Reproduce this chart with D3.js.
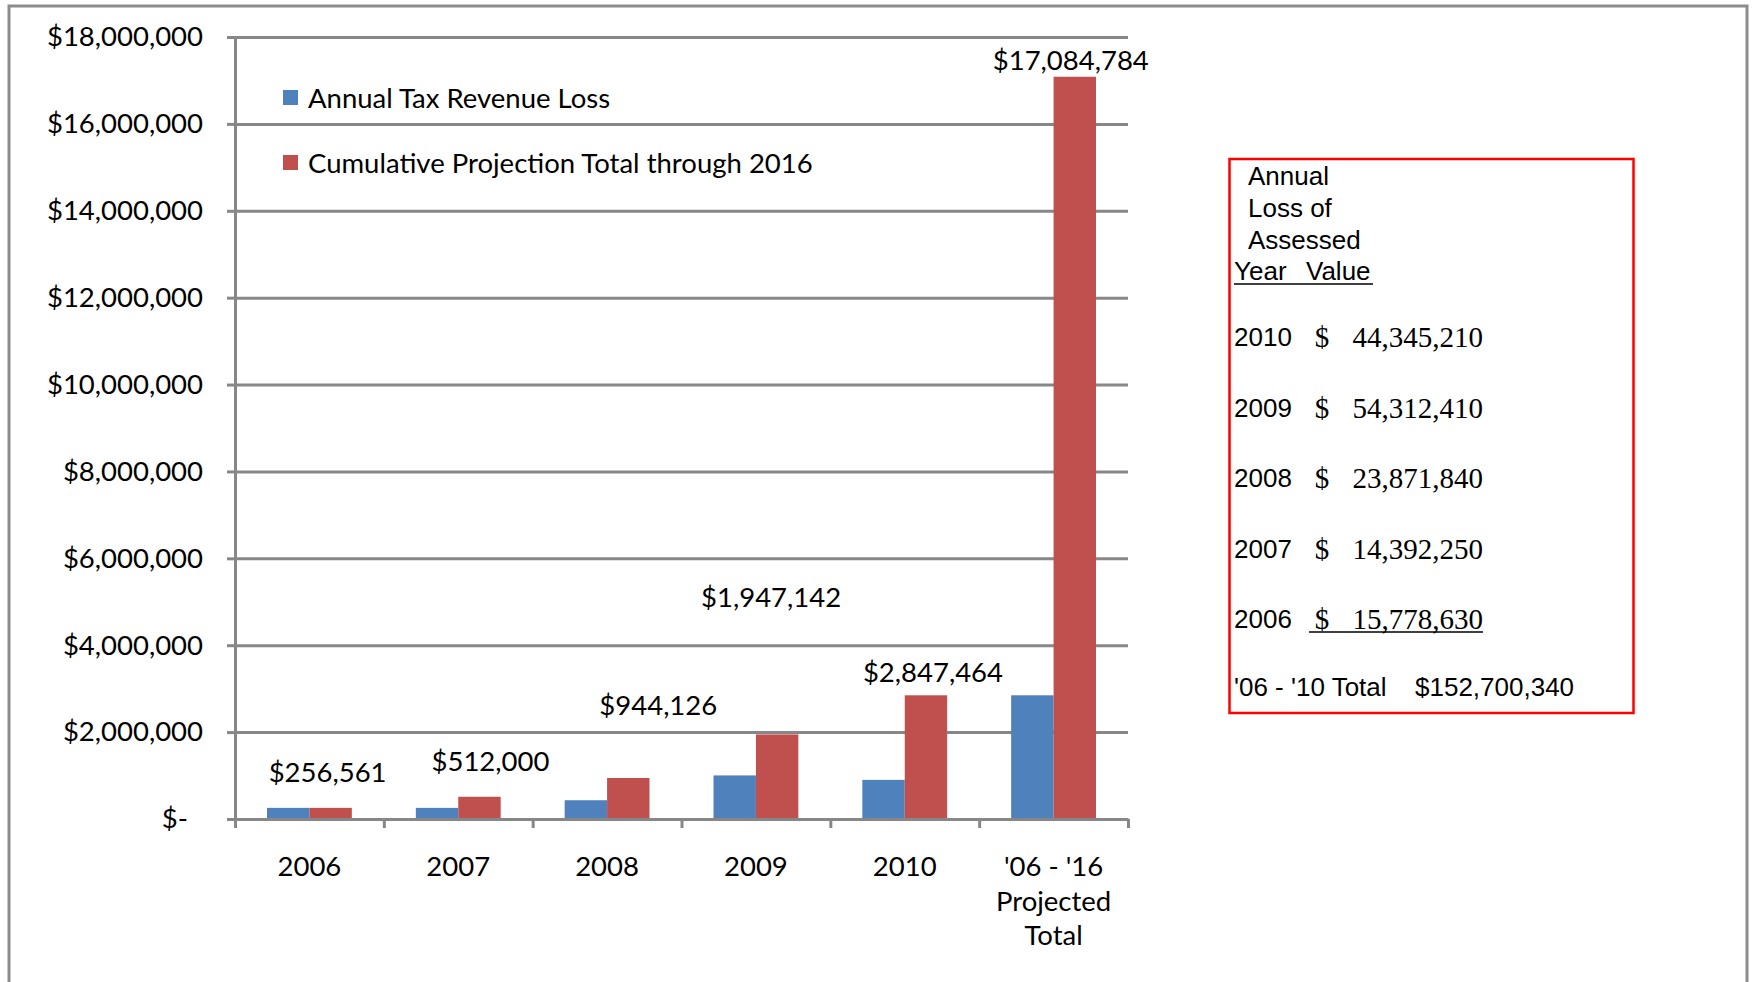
<!DOCTYPE html>
<html>
<head>
<meta charset="utf-8">
<script src="https://cdnjs.cloudflare.com/ajax/libs/d3/7.8.5/d3.min.js"></script>
<style>
  body { margin: 0; background: #fff; }
  svg text { font-family: Lato, "Open Sans", sans-serif; fill: #000; }
  .grid line { stroke: #878787; stroke-width: 3; }
  .grid path { display: none; }
  .axis path, .axis line { stroke: #878787; stroke-width: 3; fill: none; }
  .tbl text { font-family: "Liberation Sans", Arial, sans-serif; }
  .tbl text.num { font-family: "Liberation Serif", "Times New Roman", serif; }
</style>
</head>
<body>
<div id="chart"></div>
<script>
// -----------------------------------------------------------------------------
// Data
// -----------------------------------------------------------------------------

var categories = ["2006", "2007", "2008", "2009", "2010", "'06 - '16|Projected|Total"];
var annualLoss = [256561, 256000, 432126, 1003016, 900322, 2847464];
var cumulative = [256561, 512000, 944126, 1947142, 2847464, 17084784];
var seriesNames = ["Annual Tax Revenue Loss", "Cumulative Projection Total through 2016"];
var yTicks = [0, 2000000, 4000000, 6000000, 8000000, 10000000, 12000000, 14000000, 16000000, 18000000];

var tableYears = ["2010", "2009", "2008", "2007", "2006"];
var tableValues = ["44,345,210", "54,312,410", "23,871,840", "14,392,250", "15,778,630"];
var tableTotalLabel = "'06 - '10 Total";
var tableTotal = "$152,700,340";

// label nudges (px) relative to top of the red bar, as placed by hand in the original
var labelNudge = [[-3, -35], [11, -35], [30, -73], [-6, -137], [7, -23], [-4, -16]];

var COLORS = ["#4F81BD", "#C0504D"];
var FONT = "27.5px";
var W = 1754, H = 982;
var plot = {left: 235, right: 1128, top: 37, bottom: 819};

// -----------------------------------------------------------------------------
// Chart
// -----------------------------------------------------------------------------

var svg = d3.select("#chart").append("svg")
    .attr("width", W)
    .attr("height", H);

svg.append("rect")
    .attr("x", 9).attr("y", 6)
    .attr("width", 1738).attr("height", 1000)
    .attr("fill", "none")
    .attr("stroke", "#8c8c8c")
    .attr("stroke-width", 3);

var yScale = d3.scaleLinear()
    .domain([0, 18000000])
    .range([plot.bottom, plot.top]);

var x0 = d3.scaleBand()
    .domain(categories)
    .range([plot.left, plot.right])
    .paddingInner(0.43)
    .paddingOuter(0.215);

var x1 = d3.scaleBand()
    .domain([0, 1])
    .range([0, x0.bandwidth()]);

var slot = d3.scaleLinear()
    .domain([0, categories.length])
    .range([plot.left, plot.right]);

// gridlines
svg.append("g")
    .attr("class", "grid")
    .attr("transform", "translate(" + plot.left + ",0)")
    .call(d3.axisLeft(yScale)
        .tickValues(yTicks)
        .tickSize(-(plot.right - plot.left))
        .tickFormat(""));

// y axis
svg.append("g")
    .attr("class", "axis")
    .attr("transform", "translate(" + plot.left + ",0)")
    .call(d3.axisLeft(yScale)
        .tickValues(yTicks)
        .tickSizeInner(8)
        .tickSizeOuter(0)
        .tickPadding(24)
        .tickFormat(function(d) { return d === 0 ? "$-" : d3.format("$,")(d); }))
    .selectAll("text")
      .style("font-size", FONT)
      .style("font-family", "Lato, sans-serif")
      .attr("dx", function(d) { return d === 0 ? -15 : 0; });

// bars
var groups = svg.append("g").selectAll("g")
    .data(categories)
    .enter().append("g")
      .attr("transform", function(d) { return "translate(" + x0(d) + ",0)"; });

groups.selectAll("rect")
    .data(function(d, i) { return [annualLoss[i], cumulative[i]]; })
    .enter().append("rect")
      .attr("x", function(d, j) { return x1(j); })
      .attr("y", function(d) { return yScale(d); })
      .attr("width", x1.bandwidth())
      .attr("height", function(d) { return yScale(0) - yScale(d); })
      .attr("fill", function(d, j) { return COLORS[j]; });

// x axis with ticks at slot boundaries
svg.append("g")
    .attr("class", "axis")
    .attr("transform", "translate(0," + plot.bottom + ")")
    .call(d3.axisBottom(slot)
        .tickValues(d3.range(categories.length + 1))
        .tickSizeInner(9)
        .tickSizeOuter(0)
        .tickFormat(""));

// category labels
var catLabels = svg.append("g").selectAll("text")
    .data(categories)
    .enter().append("text")
      .attr("text-anchor", "middle")
      .attr("y", 876)
      .style("font-size", FONT);

catLabels.selectAll("tspan")
    .data(function(d, i) { return d.split("|").map(function(s) { return {s: s, i: i}; }); })
    .enter().append("tspan")
      .attr("x", function(d) { return slot(d.i + 0.5); })
      .attr("dy", function(d, k) { return k === 0 ? 0 : 34.5; })
      .text(function(d) { return d.s; });

// data labels on cumulative bars
svg.append("g").selectAll("text")
    .data(cumulative)
    .enter().append("text")
      .attr("text-anchor", "middle")
      .attr("x", function(d, i) { return x0(categories[i]) + x1(1) + x1.bandwidth() / 2 + labelNudge[i][0]; })
      .attr("y", function(d, i) { return yScale(d) + labelNudge[i][1]; })
      .attr("dy", "0.35em")
      .style("font-size", FONT)
      .text(function(d) { return d3.format("$,")(d); });

// legend
var legend = svg.append("g").selectAll("g")
    .data(seriesNames)
    .enter().append("g")
      .attr("transform", function(d, i) { return "translate(283," + (98 + i * 65) + ")"; });

legend.append("rect")
    .attr("x", 0).attr("y", -8)
    .attr("width", 15).attr("height", 15)
    .attr("fill", function(d, i) { return COLORS[i]; });

legend.append("text")
    .attr("x", 25)
    .attr("dy", "0.35em")
    .style("font-size", FONT)
    .text(function(d) { return d; });

// -----------------------------------------------------------------------------
// Side table
// -----------------------------------------------------------------------------

var tbl = svg.append("g").attr("class", "tbl");

tbl.append("rect")
    .attr("x", 1229.5).attr("y", 159)
    .attr("width", 404).attr("height", 554)
    .attr("fill", "none")
    .attr("stroke", "#ff0000")
    .attr("stroke-width", 2.5);

["Annual", "Loss of", "Assessed"].forEach(function(s, i) {
  tbl.append("text")
      .attr("x", 1248)
      .attr("y", 176 + i * 32)
      .attr("dy", "0.35em")
      .style("font-size", "26px")
      .text(s);
});

tbl.append("text").attr("x", 1234).attr("y", 271).attr("dy", "0.35em")
    .style("font-size", "26px").text("Year");
tbl.append("text").attr("x", 1306).attr("y", 271).attr("dy", "0.35em")
    .style("font-size", "26px").text("Value");
tbl.append("line")
    .attr("x1", 1234).attr("x2", 1373)
    .attr("y1", 284).attr("y2", 284)
    .attr("stroke", "#000").attr("stroke-width", 1.5);

var rowY = d3.scalePoint()
    .domain(tableYears)
    .range([337, 619]);

var rows = tbl.selectAll("g.row")
    .data(tableYears)
    .enter().append("g")
      .attr("class", "row")
      .attr("transform", function(d) { return "translate(0," + rowY(d) + ")"; });

rows.append("text")
    .attr("x", 1234)
    .attr("dy", "0.35em")
    .style("font-size", "26px")
    .text(function(d) { return d; });

rows.append("text")
    .attr("class", "num")
    .attr("x", 1322)
    .attr("text-anchor", "middle")
    .attr("dy", "0.35em")
    .style("font-size", "29px")
    .text("$");

rows.append("text")
    .attr("class", "num")
    .attr("x", 1483)
    .attr("text-anchor", "end")
    .attr("dy", "0.35em")
    .style("font-size", "29px")
    .text(function(d, i) { return tableValues[i]; });

tbl.append("line")
    .attr("x1", 1309).attr("x2", 1483)
    .attr("y1", rowY("2006") + 13).attr("y2", rowY("2006") + 13)
    .attr("stroke", "#000").attr("stroke-width", 1.5);

tbl.append("text")
    .attr("x", 1234).attr("y", 687).attr("dy", "0.35em")
    .style("font-size", "26px")
    .text(tableTotalLabel);

tbl.append("text")
    .attr("x", 1415).attr("y", 687).attr("dy", "0.35em")
    .style("font-size", "26px")
    .text(tableTotal);
</script>
</body>
</html>
